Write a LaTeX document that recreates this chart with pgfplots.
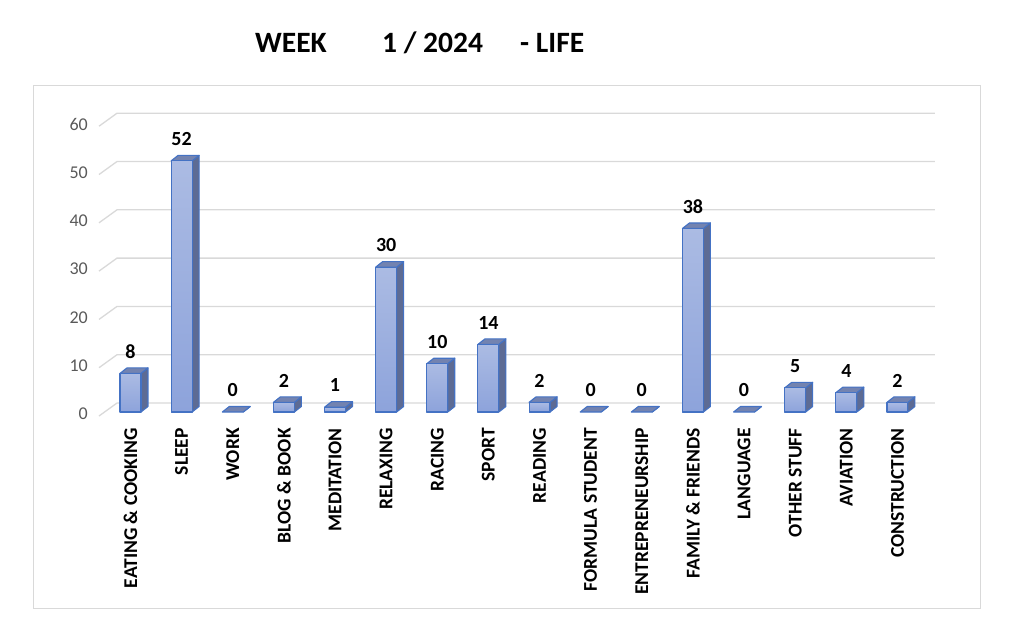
\documentclass[border=0pt]{standalone}
\usepackage{fontspec}
\setmainfont{Carlito}
\usepackage{pgfplots}
\usepackage{pgfplotstable}
\pgfplotsset{compat=1.18}
\definecolor{gridgray}{HTML}{D9D9D9}
\definecolor{edgeblue}{HTML}{4472C4}
\definecolor{fronttop}{HTML}{ABBBE3}
\definecolor{frontbot}{HTML}{8DA3DB}
\definecolor{sidecol}{HTML}{5D6B94}
\definecolor{topcol}{HTML}{7383B0}
\definecolor{ticktext}{HTML}{595959}
\definecolor{framegray}{HTML}{D9D9D9}

\pgfplotstableread{
x v
0 8
1 52
2 0
3 2
4 1
5 30
6 10
7 14
8 2
9 0
10 0
11 38
12 0
13 5
14 4
15 2
}\data

\begin{document}
\begin{tikzpicture}
\path[use as bounding box] (0pt,0pt) rectangle (1023pt,-637pt);
\draw[framegray, line width=1pt] (33pt,-85pt) rectangle (980pt,-608pt);
\node[anchor=base west, inner sep=0pt, font=\bfseries\fontsize{29.5}{34}\selectfont] at (255pt,-52pt) {WEEK};
\node[anchor=base west, inner sep=0pt, font=\bfseries\fontsize{29.5}{34}\selectfont] at (382pt,-52pt) {1 / 2024};
\node[anchor=base west, inner sep=0pt, font=\bfseries\fontsize{29.5}{34}\selectfont] at (520pt,-52pt) {- LIFE};
\begin{axis}[
  at={(99pt,-412pt)}, anchor=south west,
  x=51.13pt, y=4.83pt,
  xmin=-0.616, xmax=15.734, ymin=0, ymax=60,
  enlargelimits=false, clip=false,
  axis lines*=left,
  axis line style={draw=none},
  tick style={draw=none},
  major tick length=0pt,
  /pgf/number format/assume math mode=true,
  ytick={0,10,...,60},
  yticklabel style={font=\fontsize{18}{21}\selectfont, text=ticktext, anchor=east, inner sep=0pt, yshift=-2pt},
  yticklabel shift=11pt,
  xtick={0,...,15},
  xticklabels={EATING \& COOKING, SLEEP, WORK, BLOG \& BOOK, MEDITATION, RELAXING, RACING, SPORT, READING, FORMULA STUDENT, ENTREPRENEURSHIP, FAMILY \& FRIENDS, LANGUAGE, OTHER STUFF, AVIATION, CONSTRUCTION},
  xticklabel style={rotate=90, anchor=east, inner sep=0pt, font=\bfseries\fontsize{19.5}{22}\selectfont},
  xticklabel shift=16pt,
  no markers,
]
% back wall gridlines with left perspective edge
\addplot[gridgray, line width=1.3pt] coordinates {(-0.616,-0.83) (-0.264,1.86) (15.734,1.86)};
\addplot[gridgray, line width=1.3pt] coordinates {(-0.616,9.17) (-0.264,11.86) (15.734,11.86)};
\addplot[gridgray, line width=1.3pt] coordinates {(-0.616,19.17) (-0.264,21.86) (15.734,21.86)};
\addplot[gridgray, line width=1.3pt] coordinates {(-0.616,29.17) (-0.264,31.86) (15.734,31.86)};
\addplot[gridgray, line width=1.3pt] coordinates {(-0.616,39.17) (-0.264,41.86) (15.734,41.86)};
\addplot[gridgray, line width=1.3pt] coordinates {(-0.616,49.17) (-0.264,51.86) (15.734,51.86)};
\addplot[gridgray, line width=1.3pt] coordinates {(-0.616,59.17) (-0.264,61.86) (15.734,61.86)};
% 3D bars
\pgfplotsforeachungrouped \i in {0,...,15}{%
  \pgfplotstablegetelem{\i}{v}\of\data
  \let\v\pgfplotsretval
  \pgfmathsetmacro\xl{\i-0.205}%
  \pgfmathsetmacro\xr{\i+0.205}%
  \pgfmathsetmacro\xlb{\i-0.068}%
  \pgfmathsetmacro\xrb{\i+0.342}%
  \pgfmathsetmacro\vt{\v+1.14}%
  \edef\cmd{%
    \noexpand\addplot[fill=sidecol, draw=edgeblue, line width=1.1pt, line join=round]
      coordinates {(\xr,0) (\xrb,1.14) (\xrb,\vt) (\xr,\v)} -- cycle;
    \noexpand\addplot[fill=topcol, draw=edgeblue, line width=1.1pt, line join=round]
      coordinates {(\xl,\v) (\xr,\v) (\xrb,\vt) (\xlb,\vt)} -- cycle;
  }\cmd
  \ifdim\v pt>0pt
    \edef\cmd{%
      \noexpand\addplot[top color=fronttop, bottom color=frontbot, draw=edgeblue, line width=1.1pt, line join=round]
        coordinates {(\xl,0) (\xr,0) (\xr,\v) (\xl,\v)} -- cycle;
    }\cmd
  \fi
}
% value labels
\addplot[draw=none, nodes near coords,
  every node near coord/.append style={anchor=south, inner sep=0pt, yshift=15pt, text=black, font=\bfseries\fontsize{20}{23}\selectfont}]
  table[x=x, y=v]{\data};
\end{axis}
\end{tikzpicture}
\end{document}
